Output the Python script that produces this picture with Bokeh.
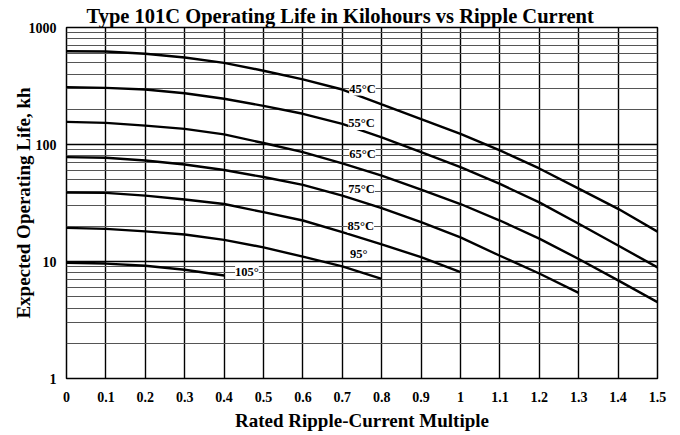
from bokeh.plotting import figure
from bokeh.models import Range1d, FixedTicker, CustomJSTickFormatter, PrintfTickFormatter, Label
from bokeh.embed import file_html
from bokeh.resources import INLINE

# ---- data ----
ripple_multiple = [0.0, 0.1, 0.2, 0.3, 0.4, 0.5, 0.6, 0.7, 0.8, 0.9, 1.0, 1.1, 1.2, 1.3, 1.4, 1.5]

life_45 = [627, 624, 596, 554, 499, 427, 360, 295, 220, 165, 123, 89, 62.4, 42, 28.2, 18]
life_55 = [309, 305, 295, 274, 246, 214, 183, 150, 115, 86, 64, 46, 32, 21, 13.7, 8.9]
life_65 = [156, 153, 145, 136, 122, 103, 86, 69, 54.3, 41.2, 31, 22.4, 15.7, 10.5, 6.9, 4.5]
life_75 = [78, 77, 73, 67.5, 60.5, 52.7, 45.2, 36.6, 28.6, 21.7, 16.1, 11.2, 7.9, 5.4]
life_85 = [38.9, 38.6, 36.6, 33.9, 31, 26.4, 22.4, 17.8, 14, 10.9, 8.1]
life_95 = [19.4, 19.0, 18.1, 17.0, 15.3, 13.2, 11.0, 9.1, 7.1]
life_105 = [9.75, 9.6, 9.2, 8.5, 7.6]

curve_labels = ["45°C", "55°C", "65°C", "75°C", "85°C", "95°", "105°"]
label_x = [0.751, 0.749, 0.751, 0.749, 0.747, 0.742, 0.458]
label_y = [301, 153, 83, 41.7, 20.1, 11.7, 8.1]

x_ticks = [0, 0.1, 0.2, 0.3, 0.4, 0.5, 0.6, 0.7, 0.8, 0.9, 1.0, 1.1, 1.2, 1.3, 1.4, 1.5]
y_ticks = [1, 10, 100, 1000]
y_minor = [2, 3, 4, 5, 6, 7, 8, 9,
           20, 30, 40, 50, 60, 70, 80, 90,
           200, 300, 400, 500, 600, 700, 800, 900]

title_text = "Type 101C Operating Life in Kilohours vs Ripple Current"
x_title = "Rated Ripple-Current Multiple"
y_title = "Expected Operating Life, kh"

SERIF = "Liberation Serif"

p = figure(width=678, height=433, y_axis_type="log",
           x_range=Range1d(0, 1.5), y_range=Range1d(1, 1000),
           output_backend="svg", toolbar_location=None,
           min_border_left=66, min_border_right=21,
           min_border_top=27, min_border_bottom=55)

p.title.text = title_text
p.title.text_font = SERIF
p.title.text_font_style = "bold"
p.title.text_font_size = "20.5px"
p.title.text_color = "black"
p.title.align = "left"
p.title.offset = 20
p.title.standoff = 2
p.title.vertical_align = "bottom"

p.outline_line_color = "black"
p.outline_line_width = 1.5
p.background_fill_color = "white"
p.border_fill_color = "white"

# x axis
xt = FixedTicker(ticks=x_ticks)
p.xaxis.ticker = xt
p.xgrid.ticker = xt
p.xaxis.formatter = CustomJSTickFormatter(code="return (Math.round(tick*10)/10).toString();")
p.xaxis.axis_label = x_title

# y axis
yt = FixedTicker(ticks=y_ticks, minor_ticks=y_minor)
p.yaxis.ticker = yt
p.ygrid.ticker = yt
p.yaxis.formatter = PrintfTickFormatter(format="%d")
p.yaxis.axis_label = y_title

for ax in (p.xaxis, p.yaxis):
    ax.axis_line_color = None
    ax.major_tick_line_color = None
    ax.minor_tick_line_color = None
    ax.major_tick_out = 0
    ax.major_tick_in = 0
    ax.minor_tick_out = 0
    ax.minor_tick_in = 0
    ax.major_label_text_font = SERIF
    ax.major_label_text_font_style = "bold"
    ax.major_label_text_font_size = "14px"
    ax.major_label_text_color = "black"
    ax.axis_label_text_font = SERIF
    ax.axis_label_text_font_style = "bold"
    ax.axis_label_text_font_size = "19px"
    ax.axis_label_text_color = "black"

p.xaxis.major_label_standoff = 13
p.xaxis.axis_label_standoff = 5
p.yaxis.major_label_standoff = 10
p.yaxis.axis_label_standoff = -8

p.xgrid.grid_line_color = "black"
p.xgrid.grid_line_width = 1.4
p.ygrid.grid_line_color = "black"
p.ygrid.grid_line_width = 1.4
p.ygrid.minor_grid_line_color = "#555555"
p.ygrid.minor_grid_line_width = 1

for life in (life_45, life_55, life_65, life_75, life_85, life_95, life_105):
    p.line(ripple_multiple[:len(life)], life, line_color="black", line_width=2.4)

for txt, lx, ly in zip(curve_labels, label_x, label_y):
    p.add_layout(Label(x=lx, y=ly, text=txt, text_align="center", text_baseline="middle",
                       text_font=SERIF, text_font_style="bold", text_font_size="12.5px",
                       text_color="black", background_fill_color="white"))

open("out.html", "w").write(file_html(p, INLINE))
